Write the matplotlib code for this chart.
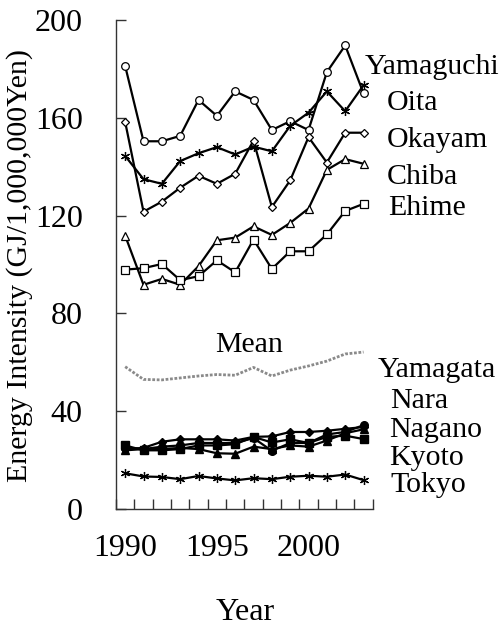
import matplotlib
matplotlib.use("Agg")
import matplotlib.pyplot as plt
from matplotlib import font_manager
import numpy as np
import glob

years = list(range(1990, 2004))
year_labels = ["1990", "1995", "2000"]

yamaguchi = [181.2, 150.4, 150.4, 152.6, 167.3, 160.8, 170.8, 167.3, 155.0, 158.6, 155.0, 178.7, 189.6, 170.0]
oita = [144.4, 134.9, 133.0, 142.3, 145.5, 148.0, 145.0, 148.2, 146.3, 156.7, 162.1, 170.8, 162.7, 173.3]
okayama = [158.3, 121.6, 125.7, 131.4, 136.3, 133.0, 137.1, 150.7, 123.5, 134.4, 152.1, 141.7, 153.9, 153.9]
chiba = [111.8, 91.7, 94.1, 91.7, 99.3, 109.9, 111.0, 115.6, 112.1, 117.0, 122.9, 138.7, 143.1, 141.2]
ehime = [97.9, 98.5, 100.2, 93.6, 95.2, 101.7, 96.8, 110.2, 98.2, 105.4, 105.4, 112.3, 121.9, 124.8]
mean = [58.2, 53.0, 52.8, 53.6, 54.4, 55.0, 54.7, 57.9, 54.4, 56.8, 58.5, 60.5, 63.4, 64.2]
yamagata = [24.5, 25.0, 27.5, 28.5, 28.5, 28.5, 28.0, 29.5, 29.7, 31.5, 31.5, 32.0, 32.8, 33.5]
nara = [26.0, 24.0, 24.0, 24.5, 26.0, 26.0, 26.5, 29.5, 27.2, 28.5, 27.0, 29.5, 30.0, 28.6]
nagano = [24.0, 24.5, 24.5, 25.0, 24.5, 22.8, 22.6, 25.5, 24.5, 26.0, 25.5, 28.0, 31.0, 32.6]
kyoto = [25.0, 24.5, 25.5, 26.0, 27.0, 27.0, 27.0, 29.0, 23.8, 27.0, 27.0, 30.5, 31.5, 34.3]
tokyo = [14.6, 13.3, 13.1, 12.2, 13.5, 12.5, 11.7, 12.6, 12.2, 13.2, 13.6, 13.2, 14.1, 11.8]

for f in glob.glob("/usr/share/fonts/**/LiberationSerif*.ttf", recursive=True):
    try:
        font_manager.fontManager.addfont(f)
    except Exception:
        pass
plt.rcParams['font.family'] = ['Liberation Serif', 'DejaVu Serif']

W, H = 501, 626
fig = plt.figure(figsize=(W / 100, H / 100), dpi=100)
ax = fig.add_axes([116 / W, 1 - 509 / H, (372.7 - 116) / W, (509 - 20) / H])

x = np.arange(len(years))
star = (6, 2, 0)
lw = 1.6
ms = 5.5

ax.plot(x, yamaguchi, color='black', lw=lw, marker='o', ms=ms, mfc='white', mec='black', mew=0.9)
ax.plot(x, oita, color='black', lw=lw, marker=star, ms=ms + 1, mec='black', mew=0.9)
ax.plot(x, okayama, color='black', lw=lw, marker='D', ms=ms - 1, mfc='white', mec='black', mew=0.9)
ax.plot(x, chiba, color='black', lw=lw, marker='^', ms=ms, mfc='white', mec='black', mew=0.9)
ax.plot(x, ehime, color='black', lw=lw, marker='s', ms=ms, mfc='white', mec='black', mew=0.9)
ax.plot(x, mean, color='#8a8a8a', lw=2.0, linestyle=(0, (1, 0.6)))
ax.plot(x, yamagata, color='black', lw=lw, marker='D', ms=ms - 1, mfc='black')
ax.plot(x, nara, color='black', lw=lw, marker='s', ms=ms, mfc='black')
ax.plot(x, nagano, color='black', lw=lw, marker='^', ms=ms, mfc='black')
ax.plot(x, kyoto, color='black', lw=lw, marker='o', ms=ms, mfc='black')
ax.plot(x, tokyo, color='black', lw=lw, marker=star, ms=ms + 1, mec='black', mew=0.9)

ax.set_xlim(-0.5, len(years) - 0.5)
ax.set_ylim(0, 200)
for s in ['top', 'right']:
    ax.spines[s].set_visible(False)
for s in ['left', 'bottom']:
    ax.spines[s].set_color('#333333')
    ax.spines[s].set_linewidth(1.0)

ax.set_yticks(np.arange(0, 201, 40))
ax.tick_params(axis='y', direction='in', length=7.5, width=1.0, color='#333333', pad=24, labelsize=23)

ax.set_xticks(np.arange(-0.5, len(years), 1.0))
ax.set_xticklabels([])
ax.tick_params(axis='x', which='major', direction='in', length=7.5, width=1.0, color='#333333')
label_pos = [years.index(int(y)) for y in year_labels]
ax.set_xticks(label_pos, minor=True)
ax.set_xticklabels(year_labels, minor=True)
ax.tick_params(axis='x', which='minor', length=0, pad=18, labelsize=23)

def px(xp, yp):
    return xp / W, 1 - yp / H

fs = 21.5
labels = [
    ("Yamaguchi", 365, 74), ("Oita", 387, 110), ("Okayam", 387, 147),
    ("Chiba", 387, 184), ("Ehime", 388, 215), ("Mean", 215, 352),
    ("Yamagata", 378, 377), ("Nara", 390, 408), ("Nagano", 389, 437),
    ("Kyoto", 389, 465), ("Tokyo", 390, 492),
]
for t, xp, yp in labels:
    fx, fy = px(xp, yp)
    fig.text(fx, fy, t, fontsize=fs, ha='left', va='baseline')

fx, fy = px(20, 265)
fig.text(fx, fy, "Energy Intensity (GJ/1,000,000Yen)", rotation=90, fontsize=21.5, ha='center', va='center')
fx, fy = px(245, 620)
fig.text(fx, fy, "Year", fontsize=23, ha='center', va='baseline')

fig.savefig("out.png", dpi=100)
